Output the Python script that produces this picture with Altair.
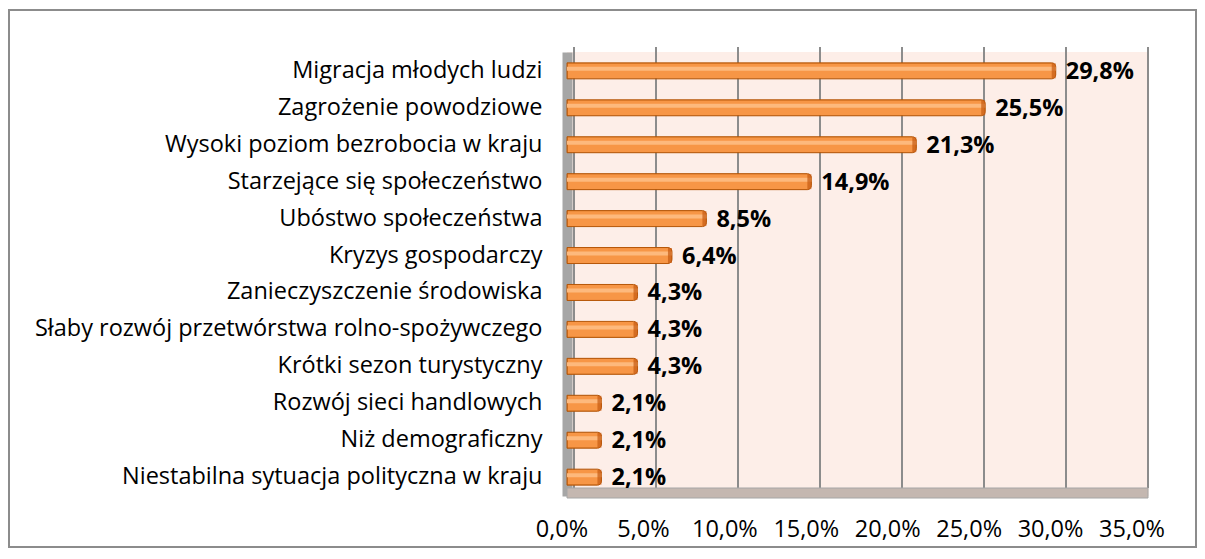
import altair as alt
import pandas as pd

categories = [
    "Migracja młodych ludzi",
    "Zagrożenie powodziowe",
    "Wysoki poziom bezrobocia w kraju",
    "Starzejące się społeczeństwo",
    "Ubóstwo społeczeństwa",
    "Kryzys gospodarczy",
    "Zanieczyszczenie środowiska",
    "Słaby rozwój przetwórstwa rolno-spożywczego",
    "Krótki sezon turystyczny",
    "Rozwój sieci handlowych",
    "Niż demograficzny",
    "Niestabilna sytuacja polityczna w kraju",
]
values = [29.8, 25.5, 21.3, 14.9, 8.5, 6.4, 4.3, 4.3, 4.3, 2.1, 2.1, 2.1]
tick_values = [0, 5, 10, 15, 20, 25, 30, 35]

df = pd.DataFrame({"cat": categories, "val": values})
df["label"] = [f"{v:.1f}".replace(".", ",") + "%" for v in values]
ticks_df = pd.DataFrame({"t": tick_values})
ticks_df["tl"] = [f"{v:.1f}".replace(".", ",") + "%" for v in tick_values]

FONT = "Open Sans"
FS = 23.5
W, H = 582, 444
XR = 574  # pixel extent of 0..35 on the bar scale

xscale = alt.Scale(domain=[0, 35], range=[0, XR], nice=False, zero=True)
ysort = categories

y_enc = alt.Y(
    "cat:N",
    sort=ysort,
    scale=alt.Scale(paddingInner=0.58, paddingOuter=0.3),
    axis=alt.Axis(
        labelFont=FONT,
        labelFontSize=FS,
        labelColor="#000000",
        labelPadding=25,
        labelLimit=700,
        ticks=False,
        domain=True,
        domainColor="#A6A6A6",
        domainWidth=10,
        title=None,
    ),
)
xq = alt.X("val:Q", scale=xscale, axis=None)
yq = alt.Y("cat:N", sort=ysort)

base = alt.Chart(df)

# gridlines on the back wall (shifted for the 3D look)
grid = alt.Chart(ticks_df).mark_rule(color="#8C8C8C", strokeWidth=2, xOffset=7).encode(
    x=alt.X("t:Q", scale=xscale, axis=None), y=alt.value(-5), y2=alt.value(H - 8)
)

floor = alt.Chart(pd.DataFrame({"a": [0], "b": [35]})).mark_rect(
    color="#C4B7B0", stroke="#A6A6A6", strokeWidth=1, x2Offset=7
).encode(x=alt.X("a:Q", scale=xscale, axis=None), x2="b:Q", y=alt.value(H - 8), y2=alt.value(H + 2))

bars = base.mark_bar(
    size=16, color="#F79646", stroke="#B65708", strokeWidth=1,
    cornerRadiusTopRight=4, cornerRadiusBottomRight=4,
).encode(x=xq, y=y_enc)

highlight = base.mark_bar(size=4, color="#FDB97D", yOffset=-2).encode(x=xq, y=yq)

caps = base.mark_tick(color="#C55A11", thickness=4, size=15, xOffset=-2).encode(x=xq, y=yq)

text = base.mark_text(
    align="left", baseline="middle", dx=10, dy=1, font=FONT, fontSize=FS,
    fontWeight="bold", color="#000000",
).encode(x=xq, y=yq, text="label:N")

frame = alt.Chart(pd.DataFrame({"a": [0]})).mark_rect(
    fill=None, stroke="#8C8C8C", strokeWidth=2, clip=False
).encode(x=alt.value(-558), x2=alt.value(W + 47), y=alt.value(-42), y2=alt.value(H + 51))

main = alt.layer(grid, floor, bars, highlight, caps, text, frame)

# tick labels drawn on the front edge
tick_labels = alt.Chart(ticks_df).mark_text(
    font=FONT, fontSize=FS, color="#000000", baseline="middle", align="center"
).encode(
    x=alt.X("t:Q", scale=alt.Scale(domain=[0, 35], range=[-5, 565], nice=False), axis=None),
    y=alt.value(H + 34),
    text="tl:N",
)

chart = alt.layer(main, tick_labels).resolve_scale(x="independent").properties(
    width=W,
    height=H,
    padding={"left": 559, "top": 44, "right": 48, "bottom": 52},
    autosize=alt.AutoSizeParams(type="none"),
    background="#FFFFFF",
).configure_view(fill="#FDEEE8", stroke=None)

chart.save("out.html", embed_options={"renderer": "svg", "actions": False})
